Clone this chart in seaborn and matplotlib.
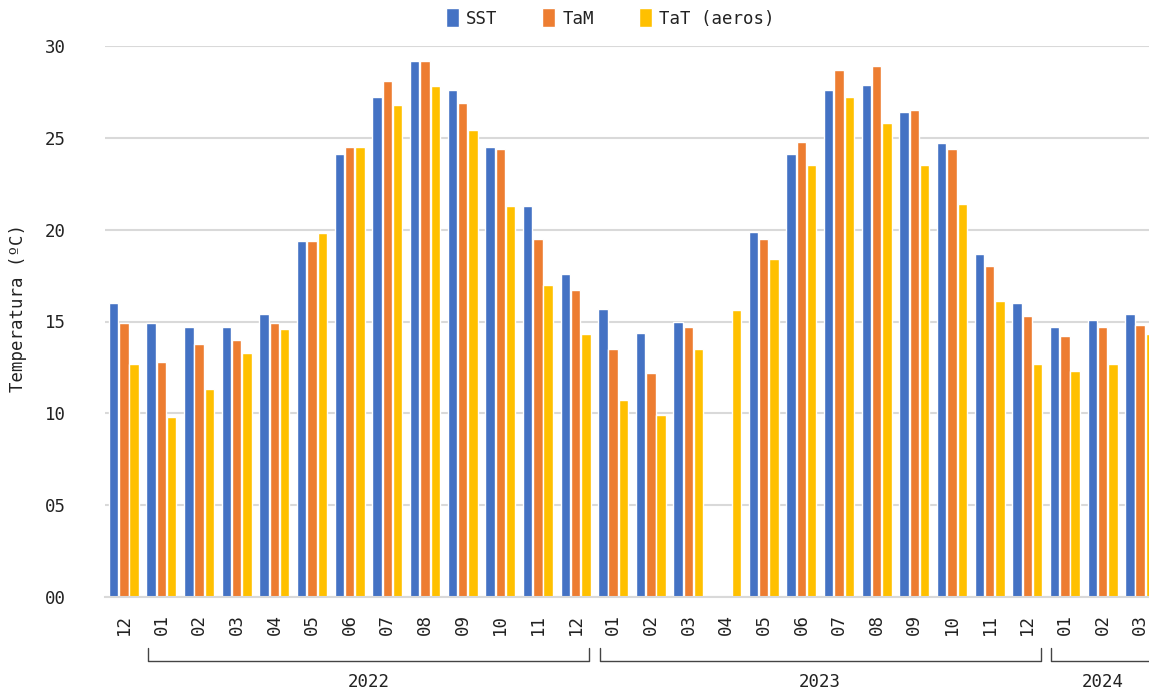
import numpy as np
import pandas as pd
import matplotlib
matplotlib.use("Agg")
import matplotlib.pyplot as plt
import matplotlib.transforms as mtransforms
from matplotlib.patches import Patch
import seaborn as sns

# data (monthly means, ºC)
periods = ["2021-12",
           "2022-01", "2022-02", "2022-03", "2022-04", "2022-05", "2022-06",
           "2022-07", "2022-08", "2022-09", "2022-10", "2022-11", "2022-12",
           "2023-01", "2023-02", "2023-03", "2023-04", "2023-05", "2023-06",
           "2023-07", "2023-08", "2023-09", "2023-10", "2023-11", "2023-12",
           "2024-01", "2024-02", "2024-03"]
month_labels = [p[-2:] for p in periods]
years = ["2022", "2023", "2024"]

sst = [16.0, 14.9, 14.7, 14.7, 15.4, 19.4, 24.1, 27.2, 29.2, 27.6, 24.5, 21.3, 17.6,
       15.7, 14.4, 15.0, np.nan, 19.9, 24.1, 27.6, 27.9, 26.4, 24.7, 18.7, 16.0,
       14.7, 15.1, 15.4]
tam = [14.9, 12.8, 13.8, 14.0, 14.9, 19.4, 24.5, 28.1, 29.2, 26.9, 24.4, 19.5, 16.7,
       13.5, 12.2, 14.7, np.nan, 19.5, 24.8, 28.7, 28.9, 26.5, 24.4, 18.0, 15.3,
       14.2, 14.7, 14.8]
tat = [12.7, 9.8, 11.3, 13.3, 14.6, 19.8, 24.5, 26.8, 27.8, 25.4, 21.3, 17.0, 14.3,
       10.7, 9.9, 13.5, 15.6, 18.4, 23.5, 27.2, 25.8, 23.5, 21.4, 16.1, 12.7,
       12.3, 12.7, 14.3]

series = ["SST", "TaM", "TaT (aeros)"]
colors = ["#4472C4", "#ED7D31", "#FFC000"]

df = pd.DataFrame({
    "periodo": periods * 3,
    "serie": np.repeat(series, len(periods)),
    "valor": sst + tam + tat,
})

sns.set_style("white")
plt.rcParams["font.family"] = ["DejaVu Sans Mono", "DejaVu Sans"]
plt.rcParams["text.color"] = "#222222"

fig = plt.figure(figsize=(11.49, 6.95), dpi=100)
ax = fig.add_axes([105 / 1149, 98 / 695, 1054 / 1149, 551 / 695])

sns.barplot(data=df, x="periodo", y="valor", hue="serie", palette=colors,
            order=periods, hue_order=series, width=0.82, gap=0.08,
            saturation=1, errorbar=None, legend=False, ax=ax)

ax.set_xlim(-0.5, len(periods) - 0.5)
ax.set_ylim(0, 30)
ax.set_yticks(range(0, 31, 5))
ax.set_yticklabels([f"{v:02d}" for v in range(0, 31, 5)], fontsize=12.5)
ax.set_xticks(range(len(periods)))
ax.set_xticklabels(month_labels, rotation=90, fontsize=12.5)
ax.tick_params(axis="y", length=0, pad=28, colors="#222222")
ax.tick_params(axis="x", length=0, pad=12, colors="#222222")
ax.yaxis.grid(True, color="#d9d9d9", linewidth=1.5)
ax.set_axisbelow(True)
for s in ["top", "right", "left"]:
    ax.spines[s].set_visible(False)
ax.spines["bottom"].set_color("#d9d9d9")
ax.spines["bottom"].set_linewidth(1.5)
ax.set_xlabel("")
ax.set_ylabel("")

# year brackets under the month labels
trans = mtransforms.blended_transform_factory(ax.transData, ax.transAxes)
year_idx = [(1, 12), (13, 24), (25, 27)]
for yr, (i0, i1) in zip(years, year_idx):
    x0, x1 = i0 - 0.36, i1 + 0.37
    ax.plot([x0, x0, x1, x1], [-0.093, -0.116, -0.116, -0.093], color="#444444",
            linewidth=1, transform=trans, clip_on=False)
    ax.text((i0 + i1) / 2, -0.154, yr, transform=trans, ha="center", va="center",
            fontsize=12.5)

fig.text(18 / 1149, 1 - 308 / 695, "Temperatura (ºC)", rotation=90,
         ha="center", va="center", fontsize=12.5)

handles = [Patch(facecolor=c, label=s) for c, s in zip(colors, series)]
fig.legend(handles=handles, loc="center", bbox_to_anchor=(610 / 1149, 1 - 18 / 695),
           ncol=3, frameon=False, fontsize=12.5, handlelength=0.75, handleheight=1.3,
           handletextpad=0.4, columnspacing=2.6)

fig.savefig("out.png", dpi=100)
